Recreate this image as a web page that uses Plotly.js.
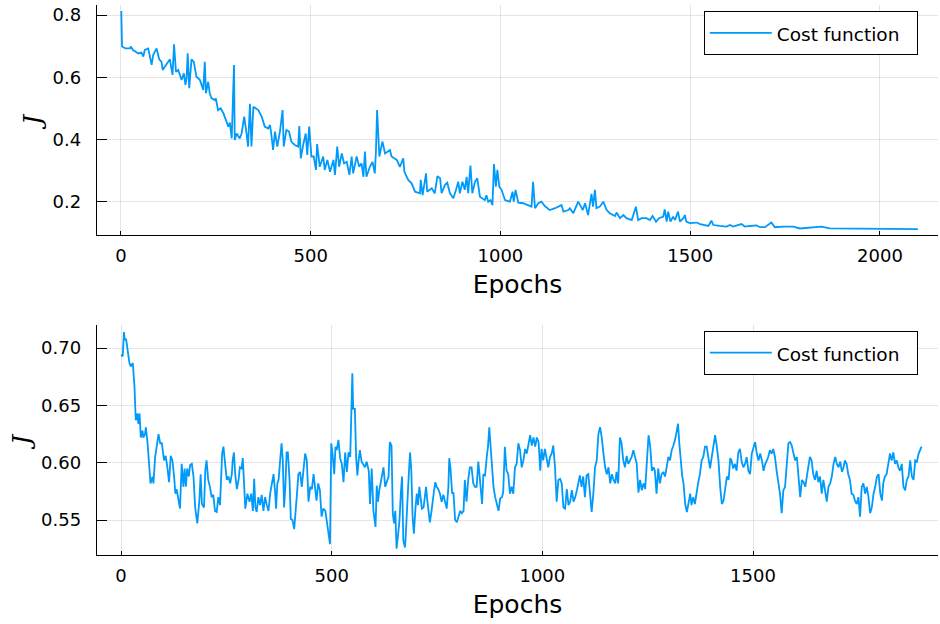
<!DOCTYPE html>
<html>
<head>
<meta charset="utf-8">
<script src="https://cdn.plot.ly/plotly-3.0.1.min.js"></script>
<style>html,body{margin:0;padding:0;background:#fff;}#chart{width:940px;height:624px;}</style>
</head>
<body>
<div id="chart"></div>
<script>
// ---- Top panel: cost function over epochs (run 1) ----
const epochsTop = [
  1, 3, 12, 24, 26, 32, 46, 54, 59, 63,
  72, 81, 85, 94, 101, 107, 110, 120, 129, 136,
  140, 145, 151, 160, 166, 170, 173, 176, 180, 186,
  192, 199, 208, 217, 221, 224, 230, 234, 239, 248,
  250, 256, 263, 270, 278, 283, 287, 292, 298, 300,
  305, 313, 318, 325, 331, 335, 340, 344, 349, 356,
  362, 371, 379, 388, 393, 397, 401, 406, 412, 419,
  426, 429, 436, 443, 449, 458, 467, 470, 474, 481,
  487, 491, 496, 502, 508, 514, 517, 524, 533, 537,
  544, 551, 560, 564, 570, 575, 582, 588, 595, 602,
  608, 612, 621, 628, 634, 639, 643, 647, 656, 663,
  669, 672, 675, 681, 689, 696, 709, 713, 727, 735,
  744, 747, 757, 766, 775, 788, 790, 795, 804, 807,
  819, 827, 834, 841, 845, 854, 860, 867, 876, 883,
  889, 893, 900, 906, 911, 915, 921, 926, 933, 939,
  946, 959, 963, 968, 974, 979, 983, 988, 992, 997,
  1003, 1012, 1025, 1032, 1035, 1040, 1047, 1060, 1073, 1082,
  1086, 1091, 1100, 1108, 1117, 1130, 1144, 1161, 1166, 1179,
  1183, 1192, 1205, 1211, 1217, 1223, 1231, 1240, 1244, 1249,
  1253, 1262, 1271, 1280, 1288, 1302, 1306, 1315, 1324, 1332,
  1346, 1357, 1363, 1372, 1385, 1394, 1401, 1410, 1418, 1429,
  1433, 1438, 1442, 1448, 1455, 1460, 1468, 1473, 1482, 1486,
  1490, 1499, 1517, 1526, 1548, 1556, 1561, 1578, 1596, 1605,
  1613, 1635, 1644, 1657, 1675, 1684, 1697, 1714, 1723, 1745,
  1772, 1789, 1833, 1846, 1868, 1921, 1947, 2000, 2026, 2061,
  2100
];
const costTop = [
  0.813, 0.699, 0.693, 0.693, 0.699, 0.688, 0.677, 0.680, 0.667, 0.688,
  0.693, 0.640, 0.672, 0.693, 0.658, 0.650, 0.624, 0.640, 0.658, 0.608,
  0.706, 0.618, 0.624, 0.592, 0.613, 0.576, 0.597, 0.677, 0.565, 0.658,
  0.650, 0.602, 0.592, 0.560, 0.650, 0.549, 0.586, 0.549, 0.533, 0.527,
  0.533, 0.495, 0.501, 0.485, 0.458, 0.442, 0.455, 0.404, 0.640, 0.399,
  0.420, 0.404, 0.420, 0.474, 0.420, 0.378, 0.515, 0.378, 0.506, 0.501,
  0.495, 0.474, 0.442, 0.436, 0.447, 0.410, 0.367, 0.426, 0.378, 0.426,
  0.495, 0.378, 0.431, 0.426, 0.394, 0.383, 0.378, 0.444, 0.340, 0.388,
  0.420, 0.351, 0.442, 0.346, 0.346, 0.303, 0.386, 0.313, 0.346, 0.303,
  0.335, 0.297, 0.335, 0.287, 0.378, 0.313, 0.356, 0.324, 0.329, 0.287,
  0.346, 0.292, 0.346, 0.313, 0.324, 0.281, 0.362, 0.281, 0.313, 0.329,
  0.292, 0.362, 0.495, 0.346, 0.394, 0.356, 0.367, 0.346, 0.335, 0.313,
  0.340, 0.297, 0.271, 0.260, 0.233, 0.228, 0.271, 0.222, 0.292, 0.233,
  0.244, 0.228, 0.283, 0.276, 0.228, 0.255, 0.262, 0.228, 0.212, 0.239,
  0.265, 0.228, 0.265, 0.239, 0.281, 0.228, 0.317, 0.228, 0.265, 0.276,
  0.217, 0.206, 0.222, 0.201, 0.206, 0.190, 0.322, 0.249, 0.303, 0.249,
  0.239, 0.206, 0.201, 0.233, 0.201, 0.239, 0.198, 0.196, 0.190, 0.185,
  0.265, 0.180, 0.196, 0.201, 0.187, 0.174, 0.180, 0.190, 0.169, 0.174,
  0.180, 0.164, 0.201, 0.185, 0.174, 0.196, 0.158, 0.226, 0.185, 0.239,
  0.180, 0.185, 0.201, 0.174, 0.164, 0.155, 0.166, 0.148, 0.158, 0.148,
  0.142, 0.185, 0.142, 0.148, 0.148, 0.142, 0.155, 0.137, 0.148, 0.153,
  0.176, 0.137, 0.169, 0.137, 0.153, 0.142, 0.169, 0.137, 0.148, 0.158,
  0.137, 0.132, 0.134, 0.129, 0.123, 0.140, 0.126, 0.123, 0.121, 0.126,
  0.121, 0.129, 0.121, 0.123, 0.125, 0.119, 0.119, 0.134, 0.119, 0.121,
  0.121, 0.115, 0.118, 0.121, 0.115, 0.115, 0.113, 0.114, 0.115, 0.114,
  0.113
];

// ---- Bottom panel: cost function over epochs (run 2) ----
const epochsBottom = [
  0,4,7,9,12,15,20,23,28,32,
  35,39,41,44,47,51,53,57,59,63,
  67,70,75,77,81,85,89,93,97,102,
  106,110,114,118,122,126,129,132,136,140,
  144,148,151,154,157,161,164,168,172,176,
  181,186,189,192,197,200,203,207,211,215,
  219,223,227,231,235,240,243,247,251,255,
  259,263,265,268,271,275,279,282,286,289,
  292,295,300,305,309,313,316,319,322,326,
  330,334,338,342,346,350,354,358,362,366,
  368,371,374,377,381,384,387,390,393,396,
  400,403,407,411,414,417,421,425,429,433,
  437,441,445,449,453,457,461,464,468,472,
  476,480,485,490,493,496,499,502,506,509,
  512,516,520,524,528,532,536,540,544,546,
  549,551,555,558,561,564,567,571,575,579,
  583,588,591,595,599,604,607,610,613,623,
  627,631,635,638,642,645,648,651,654,657,
  661,664,667,670,674,676,680,683,686,689,
  692,695,699,702,705,708,711,714,718,721,
  724,727,730,733,737,740,743,746,749,753,
  757,761,765,769,773,777,779,782,786,789,
  793,797,801,805,809,813,816,820,824,828,
  832,836,840,844,848,852,857,860,864,868,
  871,874,877,881,884,888,892,896,900,904,
  907,911,915,919,923,927,931,935,939,943,
  947,951,955,959,963,967,971,975,979,983,
  987,991,995,998,1002,1006,1010,1014,1018,1022,
  1026,1030,1034,1038,1042,1046,1050,1054,1058,1062,
  1066,1070,1074,1078,1082,1086,1089,1093,1097,1101,
  1105,1109,1113,1117,1121,1125,1129,1133,1137,1141,
  1145,1149,1153,1157,1161,1165,1169,1173,1176,1180,
  1184,1188,1192,1196,1200,1204,1208,1212,1216,1220,
  1224,1228,1232,1236,1240,1244,1248,1252,1256,1260,
  1264,1267,1271,1275,1279,1283,1287,1291,1295,1299,
  1303,1307,1311,1315,1319,1322,1325,1328,1332,1335,
  1339,1343,1347,1351,1354,1358,1362,1366,1370,1374,
  1378,1382,1386,1390,1394,1398,1402,1406,1410,1414,
  1418,1422,1426,1430,1434,1438,1442,1446,1449,1453,
  1457,1461,1465,1469,1473,1477,1481,1485,1489,1493,
  1497,1501,1505,1509,1513,1517,1521,1525,1529,1533,
  1536,1540,1544,1548,1552,1556,1560,1564,1568,1572,
  1576,1580,1584,1588,1592,1596,1600,1604,1608,1612,
  1616,1620,1624,1627,1631,1635,1639,1643,1647,1651,
  1655,1659,1663,1667,1671,1675,1679,1683,1687,1691,
  1695,1699,1703,1707,1711,1715,1718,1722,1726,1730,
  1734,1738,1742,1746,1750,1754,1758,1762,1766,1770,
  1774,1778,1782,1786,1790,1794,1798,1802,1806,1809,
  1813,1817,1821,1825,1829,1833,1837,1841,1845,1849,
  1853,1857,1861,1865,1869,1873,1877,1881,1885,1889,
  1893,1896,1900
];
const costBottom = [
  0.694,0.693,0.714,0.707,0.708,0.698,0.687,0.684,0.687,0.666,
  0.637,0.643,0.634,0.643,0.622,0.628,0.622,0.625,0.631,0.617,
  0.599,0.582,0.588,0.582,0.605,0.614,0.625,0.617,0.617,0.602,
  0.606,0.596,0.583,0.606,0.602,0.588,0.573,0.577,0.570,0.560,
  0.599,0.579,0.595,0.579,0.595,0.588,0.598,0.599,0.588,0.561,
  0.547,0.567,0.590,0.564,0.561,0.593,0.602,0.585,0.579,0.570,
  0.572,0.558,0.557,0.570,0.563,0.608,0.614,0.599,0.585,0.588,
  0.582,0.590,0.602,0.609,0.590,0.577,0.585,0.596,0.595,0.604,
  0.585,0.560,0.573,0.566,0.573,0.558,0.586,0.561,0.557,0.570,
  0.563,0.572,0.558,0.570,0.563,0.558,0.573,0.582,0.590,0.573,
  0.560,0.582,0.585,0.599,0.617,0.602,0.561,0.579,0.609,0.609,
  0.585,0.551,0.550,0.542,0.553,0.570,0.590,0.592,0.579,0.593,
  0.608,0.602,0.566,0.579,0.577,0.590,0.573,0.567,0.582,0.576,
  0.553,0.560,0.558,0.544,0.538,0.529,0.617,0.608,0.590,0.614,
  0.611,0.620,0.604,0.599,0.583,0.609,0.592,0.609,0.605,0.649,
  0.678,0.647,0.647,0.605,0.589,0.602,0.611,0.601,0.599,0.596,
  0.601,0.593,0.564,0.595,0.558,0.544,0.580,0.566,0.576,0.596,
  0.579,0.583,0.588,0.618,0.615,0.556,0.547,0.558,0.525,0.535,
  0.550,0.573,0.588,0.532,0.526,0.538,0.573,0.590,0.609,0.593,
  0.553,0.538,0.561,0.573,0.563,0.579,0.570,0.560,0.561,0.573,
  0.579,0.567,0.558,0.548,0.558,0.569,0.576,0.583,0.579,0.577,
  0.573,0.566,0.572,0.566,0.560,0.579,0.604,0.595,0.573,0.574,
  0.550,0.548,0.553,0.558,0.556,0.558,0.585,0.566,0.585,0.596,
  0.596,0.582,0.579,0.579,0.601,0.582,0.564,0.590,0.589,0.605,
  0.614,0.631,0.614,0.596,0.579,0.570,0.564,0.558,0.569,0.570,
  0.574,0.614,0.593,0.590,0.573,0.579,0.573,0.596,0.599,0.617,
  0.611,0.596,0.602,0.612,0.608,0.617,0.624,0.615,0.622,0.614,
  0.622,0.618,0.593,0.612,0.602,0.612,0.602,0.596,0.605,0.608,
  0.615,0.596,0.566,0.585,0.586,0.582,0.561,0.560,0.577,0.563,
  0.566,0.576,0.566,0.570,0.576,0.585,0.589,0.579,0.588,0.570,
  0.589,0.590,0.570,0.557,0.573,0.596,0.602,0.625,0.631,0.622,
  0.608,0.596,0.590,0.596,0.582,0.590,0.585,0.582,0.592,0.582,
  0.622,0.617,0.602,0.596,0.606,0.599,0.602,0.605,0.611,0.605,
  0.599,0.574,0.585,0.576,0.582,0.577,0.602,0.624,0.614,0.593,
  0.596,0.593,0.573,0.595,0.582,0.590,0.592,0.588,0.596,0.605,
  0.602,0.611,0.615,0.620,0.628,0.634,0.617,0.602,0.588,0.582,
  0.564,0.557,0.567,0.573,0.563,0.570,0.564,0.576,0.583,0.590,
  0.602,0.605,0.614,0.614,0.605,0.595,0.605,0.617,0.624,0.614,
  0.602,0.579,0.564,0.567,0.576,0.588,0.585,0.604,0.602,0.595,
  0.599,0.593,0.609,0.612,0.601,0.596,0.599,0.605,0.593,0.590,
  0.608,0.614,0.618,0.608,0.602,0.608,0.602,0.593,0.599,0.602,
  0.605,0.611,0.608,0.612,0.605,0.593,0.582,0.573,0.556,0.576,
  0.579,0.602,0.617,0.618,0.615,0.608,0.602,0.605,0.588,0.570,
  0.585,0.583,0.579,0.585,0.596,0.605,0.602,0.590,0.585,0.593,
  0.583,0.588,0.573,0.585,0.573,0.566,0.579,0.582,0.588,0.599,
  0.605,0.599,0.596,0.601,0.592,0.596,0.602,0.599,0.590,0.585,
  0.573,0.572,0.567,0.564,0.570,0.553,0.579,0.582,0.573,0.579,
  0.570,0.556,0.561,0.573,0.579,0.588,0.590,0.573,0.567,0.582,
  0.588,0.590,0.599,0.608,0.602,0.609,0.599,0.602,0.596,0.593,
  0.599,0.579,0.576,0.585,0.588,0.602,0.588,0.585,0.602,0.601,
  0.608,0.611,0.614
];

const xTicksTop = [0, 500, 1000, 1500, 2000];
const yTicksTop = [0.2, 0.4, 0.6, 0.8];
const yTickTextTop = ['0.2', '0.4', '0.6', '0.8'];
const xTicksBottom = [0, 500, 1000, 1500];
const yTicksBottom = [0.55, 0.60, 0.65, 0.70];
const yTickTextBottom = ['0.55', '0.60', '0.65', '0.70'];
const seriesName = 'Cost function';
const xLabel = 'Epochs';
const yLabel = '<i>J</i>';

if (epochsTop.length !== costTop.length) throw new Error('top length mismatch ' + epochsTop.length + ' vs ' + costTop.length);
if (epochsBottom.length !== costBottom.length) throw new Error('bottom length mismatch ' + epochsBottom.length + ' vs ' + costBottom.length);

// legend entry text: drawn at 18.5px inside a taller legend row, with a little trailing room
const legendEntry = '<span style="font-size:18.5px">' + seriesName + '\u00a0\u00a0</span>';

const lineColor = '#009AFA';
const traces = [
  {x: epochsTop, y: costTop, type: 'scatter', mode: 'lines', name: legendEntry,
   line: {color: lineColor, width: 1.8}, xaxis: 'x', yaxis: 'y', legend: 'legend'},
  {x: epochsBottom, y: costBottom, type: 'scatter', mode: 'lines', name: legendEntry,
   line: {color: lineColor, width: 1.8}, xaxis: 'x2', yaxis: 'y2', legend: 'legend2'}
];

const gridColor = 'rgba(0,0,0,0.1)';
function xAxis(range, tickvals, anchor) {
  return {
    domain: [0, 1], anchor: anchor, range: range, tickmode: 'array', tickvals: tickvals,
    ticks: 'inside', ticklen: 4, tickwidth: 1, tickcolor: 'black',
    showgrid: true, gridcolor: gridColor, gridwidth: 1, zeroline: false,
    showline: true, linecolor: 'black', linewidth: 1.3, mirror: false,
    tickfont: {family: 'DejaVu Sans', size: 18, color: 'black'},
    ticklabelstandoff: 4,
    title: {text: xLabel, font: {family: 'DejaVu Sans', size: 25, color: 'black'}, standoff: 10},
    automargin: false
  };
}
function yAxis(domain, range, tickvals, ticktext, anchor) {
  return {
    domain: domain, anchor: anchor, range: range, tickmode: 'array', tickvals: tickvals, ticktext: ticktext,
    ticks: 'inside', ticklen: 10, tickwidth: 1, tickcolor: 'black',
    showgrid: true, gridcolor: gridColor, gridwidth: 1, zeroline: false,
    showline: true, linecolor: 'black', linewidth: 1.3, mirror: false,
    tickfont: {family: 'DejaVu Sans', size: 18, color: 'black'},
    ticklabelstandoff: 11,
    title: {text: yLabel, font: {family: 'DejaVu Serif', size: 25, color: 'black'}, standoff: 3},
    automargin: false
  };
}

const legendStyle = (y) => ({
  x: 0.976, xanchor: 'right', y: y, yanchor: 'top',
  bgcolor: 'white', bordercolor: 'black', borderwidth: 1,
  font: {family: 'DejaVu Sans', size: 22, color: 'black'},
  itemwidth: 62
});

const layout = {
  width: 940, height: 624,
  paper_bgcolor: 'white', plot_bgcolor: 'white',
  margin: {l: 97, r: 2, t: 5, b: 69, pad: 0},
  showlegend: true,
  xaxis: xAxis([-63, 2153], xTicksTop, 'y'),
  yaxis: yAxis([0.5818, 1], [0.094, 0.8324], yTicksTop, yTickTextTop, 'x'),
  xaxis2: xAxis([-57, 1939], xTicksBottom, 'y2'),
  yaxis2: yAxis([0, 0.4182], [0.5195, 0.7202], yTicksBottom, yTickTextBottom, 'x2'),
  legend: legendStyle(0.989),
  legend2: legendStyle(0.4075)
};

Plotly.newPlot('chart', traces, layout, {displayModeBar: false, staticPlot: true});
</script>
</body>
</html>
